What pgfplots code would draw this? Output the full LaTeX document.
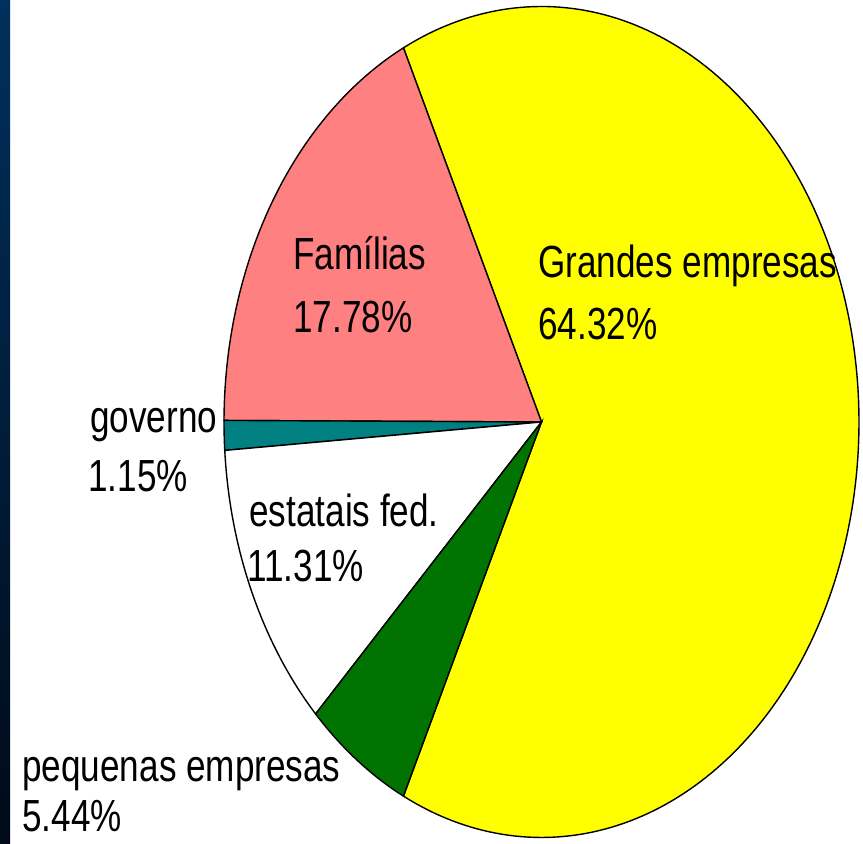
\documentclass[border=0pt]{standalone}
\usepackage{pgfplots}
\pgfplotsset{compat=1.18}
\usepackage{pgfplotstable}
\usepackage{fontspec}
\setmainfont{Liberation Sans}
\definecolor{cGrand}{HTML}{FFFF00}
\definecolor{cFam}{HTML}{FF8080}
\definecolor{cGov}{HTML}{008080}
\definecolor{cEst}{HTML}{FFFFFF}
\definecolor{cPeq}{HTML}{007300}
\definecolor{stripTop}{HTML}{00305C}
\definecolor{stripBot}{HTML}{000A18}
\newcommand{\lbl}[1]{\fontsize{22.5}{27}\selectfont\scalebox{0.78}[1]{#1}}
\begin{document}
\begin{tikzpicture}
\pgfplotstableread{
label pct
Grandes 64.32
Familias 17.78
governo 1.15
estatais 11.31
pequenas 5.44
}\piedata
\pgfplotstablegetelem{0}{pct}\of\piedata \let\pA\pgfplotsretval
\pgfplotstablegetelem{1}{pct}\of\piedata \let\pB\pgfplotsretval
\pgfplotstablegetelem{2}{pct}\of\piedata \let\pC\pgfplotsretval
\pgfplotstablegetelem{3}{pct}\of\piedata \let\pD\pgfplotsretval
\pgfplotstablegetelem{4}{pct}\of\piedata \let\pE\pgfplotsretval
\pgfmathsetmacro\sA{-1.8*\pA}
\pgfmathsetmacro\eA{\sA+3.6*\pA}
\pgfmathsetmacro\eB{\eA+3.6*\pB}
\pgfmathsetmacro\eC{\eB+3.6*\pC}
\pgfmathsetmacro\eD{\eC+3.6*\pD}
\pgfmathsetmacro\eE{\eD+3.6*\pE}
\def\cx{541.5}\def\cy{422}\def\rx{317.5}\def\ry{415.5}
\begin{axis}[name=ax, hide axis, scale only axis, width=431.5pt, height=422pt,
  xmin=0, xmax=863, ymin=0, ymax=844, clip=false]
\fill[white] (axis cs:0,0) rectangle (axis cs:863,844);
\shade[top color=stripTop, bottom color=stripBot] (axis cs:0,0) rectangle (axis cs:10,844);
\addplot[fill=cGrand, draw=black, line width=0.7pt, domain=\sA:\eA, samples=200, variable=\t]
  ({\cx+\rx*cos(t)},{\cy+\ry*sin(t)}) -- (axis cs:541.5,422) -- cycle;
\addplot[fill=cFam, draw=black, line width=0.7pt, domain=\eA:\eB, samples=80, variable=\t]
  ({\cx+\rx*cos(t)},{\cy+\ry*sin(t)}) -- (axis cs:541.5,422) -- cycle;
\addplot[fill=cGov, draw=black, line width=0.7pt, domain=\eB:\eC, samples=10, variable=\t]
  ({\cx+\rx*cos(t)},{\cy+\ry*sin(t)}) -- (axis cs:541.5,422) -- cycle;
\addplot[fill=cEst, draw=black, line width=0.7pt, domain=\eC:\eD, samples=60, variable=\t]
  ({\cx+\rx*cos(t)},{\cy+\ry*sin(t)}) -- (axis cs:541.5,422) -- cycle;
\addplot[fill=cPeq, draw=black, line width=0.7pt, domain=\eD:\eE, samples=40, variable=\t]
  ({\cx+\rx*cos(t)},{\cy+\ry*sin(t)}) -- (axis cs:541.5,422) -- cycle;
\node[anchor=base west, inner sep=0pt] at (axis cs:538,566) {\lbl{Grandes empresas}};
\node[anchor=base west, inner sep=0pt] at (axis cs:538,504) {\lbl{64.32\%}};
\node[anchor=base west, inner sep=0pt] at (axis cs:293,574) {\lbl{Famílias}};
\node[anchor=base west, inner sep=0pt] at (axis cs:293,511) {\lbl{17.78\%}};
\node[anchor=base west, inner sep=0pt] at (axis cs:90,411) {\lbl{governo}};
\node[anchor=base west, inner sep=0pt] at (axis cs:88,352) {\lbl{1.15\%}};
\node[anchor=base west, inner sep=0pt] at (axis cs:249,317) {\lbl{estatais fed.}};
\node[anchor=base west, inner sep=0pt] at (axis cs:247,262) {\lbl{11.31\%}};
\node[anchor=base west, inner sep=0pt] at (axis cs:22,62) {\lbl{pequenas empresas}};
\node[anchor=base west, inner sep=0pt] at (axis cs:22,12) {\lbl{5.44\%}};
\end{axis}
\pgfresetboundingbox
\useasboundingbox (ax.south west) rectangle (ax.north east);
\end{tikzpicture}
\end{document}
